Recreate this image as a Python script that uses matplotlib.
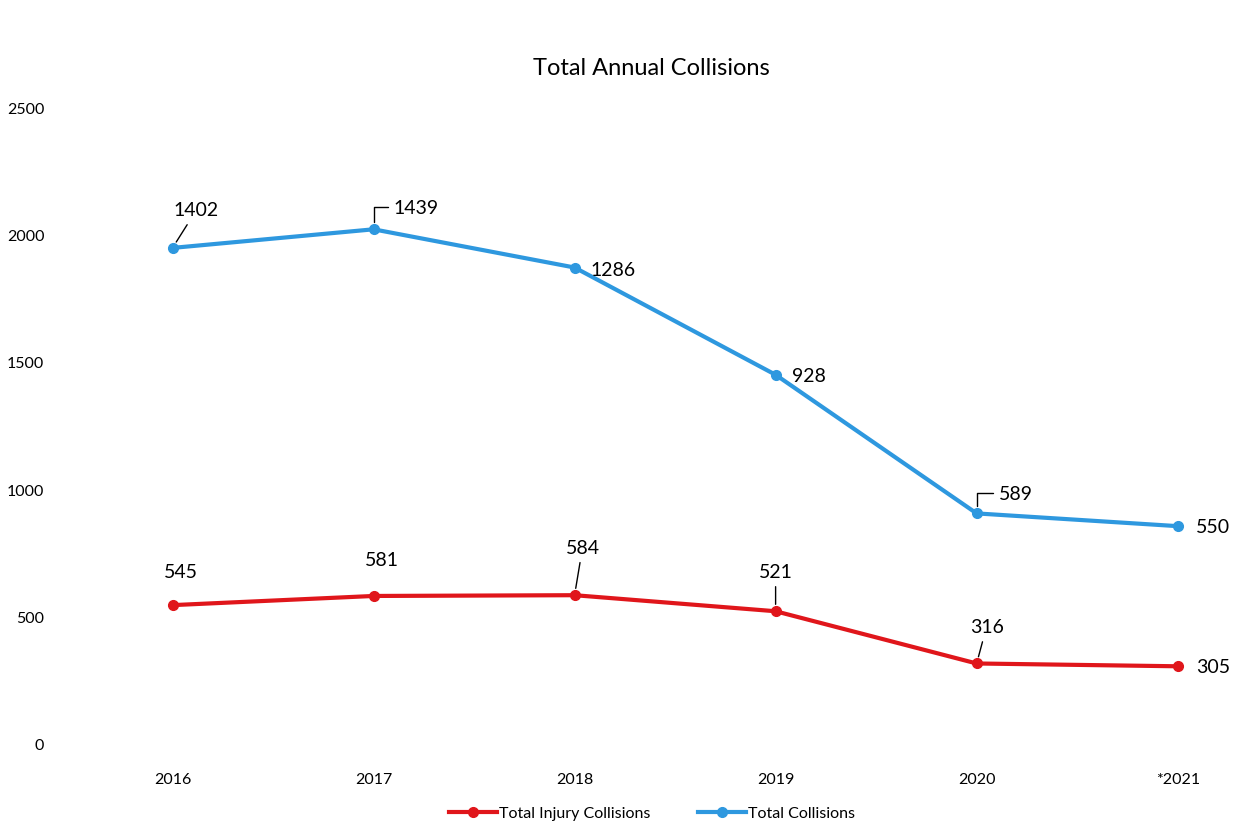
import matplotlib.pyplot as plt
import numpy as np

# Datos (gráfico de líneas apiladas: la serie azul se dibuja sobre la roja)
years = ['2016', '2017', '2018', '2019', '2020', '*2021']
injury = [545, 581, 584, 521, 316, 305]
collisions = [1402, 1439, 1286, 928, 589, 550]
yticks = [0, 500, 1000, 1500, 2000, 2500]

red = '#e0161b'
blue = '#2e98df'

plt.rcParams['font.family'] = ['Lato', 'DejaVu Sans']

fig = plt.figure(figsize=(12.42, 8.29), dpi=100)
ax = fig.add_axes([72 / 1242, 1 - 745 / 829, (1242 - 72) / 1242, (745 - 108) / 829])

x = np.arange(len(years))
stacked = np.array(injury) + np.array(collisions)

ax.plot(x, injury, color=red, lw=3, marker='o', ms=7, label='Total Injury Collisions', zorder=3)
ax.plot(x, stacked, color=blue, lw=3, marker='o', ms=7, label='Total Collisions', zorder=3)

ax.set_xlim(-0.5, 5.32)
ax.set_ylim(0, 2500)
ax.set_yticks(yticks)
ax.set_xticks(x)
ax.set_xticklabels(years)
ax.tick_params(axis='both', length=0, labelsize=11.5)
ax.tick_params(axis='y', pad=20)
ax.tick_params(axis='x', pad=20)
for s in ax.spines.values():
    s.set_visible(False)

ax.set_title('Total Annual Collisions', fontsize=17, pad=24, x=0.495)

# etiquetas: (dx, dy) en pixeles, estilo de guía
blue_offs = [(24, 38, 'line'), (36, 22, 'angle'), (16, -2, 'left'),
             (16, -1, 'left'), (38, 20, 'angle'), (18, 0, 'left')]
red_offs = [(8, 34, None), (8, 36, None), (8, 48, 'line'),
            (0, 40, 'line'), (10, 37, 'line'), (18, 0, 'left')]

def label(xi, yi, val, off):
    dx, dy, kind = off
    props = None
    ha = 'center'
    if kind == 'angle':
        ha = 'left'
        dx = dx - 16
        props = dict(arrowstyle='-', color='black', lw=1, shrinkA=2, shrinkB=5,
                     connectionstyle='angle,angleA=0,angleB=90,rad=0')
    elif kind == 'line':
        props = dict(arrowstyle='-', color='black', lw=1, shrinkA=3, shrinkB=5)
    elif kind == 'left':
        ha = 'left'
    ax.annotate(str(val), (xi, yi), xytext=(dx, dy), textcoords='offset pixels',
                ha=ha, va='center', fontsize=14, arrowprops=props, zorder=4)

for i in range(len(years)):
    label(x[i], stacked[i], collisions[i], blue_offs[i])
    label(x[i], injury[i], injury[i], red_offs[i])

fig.legend(loc='lower center', bbox_to_anchor=(0.525, -0.008), ncol=2, frameon=False,
           fontsize=11.5, handlelength=3, columnspacing=3, handletextpad=0.1)

fig.savefig('out.png', dpi=100)
